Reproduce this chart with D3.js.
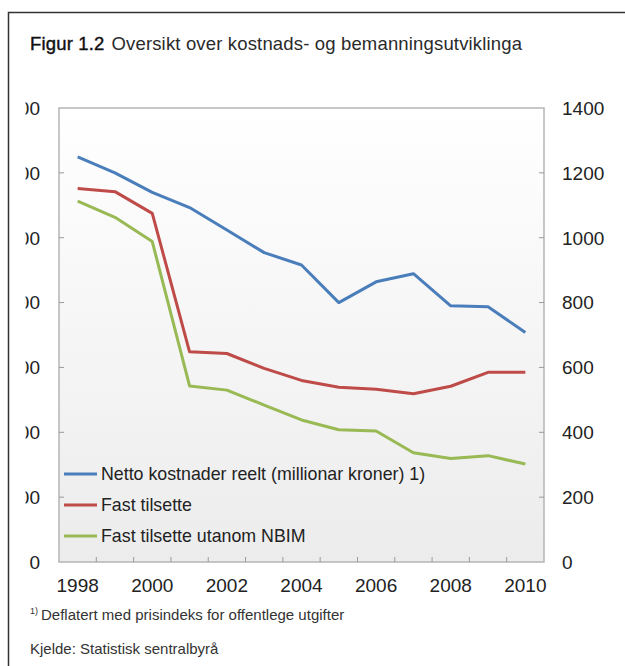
<!DOCTYPE html>
<html>
<head>
<meta charset="utf-8">
<script src="https://cdn.jsdelivr.net/npm/d3@7"></script>
<style>
  body { margin: 0; background: #fff; }
  svg { font-family: "Liberation Sans", Arial, sans-serif; }
</style>
</head>
<body>
<div id="chart"></div>
<script>
// data
const years = [1998, 1999, 2000, 2001, 2002, 2003, 2004, 2005, 2006, 2007, 2008, 2009, 2010];
const netto = [1249, 1200, 1140, 1093, 1024, 954, 916, 800, 864, 889, 790, 787, 708];
const fast = [1152, 1142, 1075, 648, 643, 597, 560, 539, 533, 519, 542, 585, 585];
const fastUtanNBIM = [1113, 1063, 988, 543, 530, 484, 438, 408, 404, 337, 319, 328, 302];
const seriesNames = ["Netto kostnader reelt (millionar kroner) 1)", "Fast tilsette", "Fast tilsette utanom NBIM"];
const colors = ["#4a7ebb", "#be4b48", "#98b954"];
const yTicks = [0, 200, 400, 600, 800, 1000, 1200, 1400];
const xLabels = [1998, 2000, 2002, 2004, 2006, 2008, 2010];

const W = 625, H = 666;
const margin = { top: 108, right: 81, bottom: 104, left: 59 };
const width = W - margin.left - margin.right,
    height = H - margin.top - margin.bottom;

const svg = d3.select("#chart")
    .append("svg")
    .attr("width", W)
    .attr("height", H);

// frame round the figure
svg.append("path")
    .attr("d", "M8.5," + H + "V12.5H" + W)
    .attr("fill", "none")
    .attr("stroke", "#333")
    .attr("stroke-width", 1.5);

svg.append("text")
    .attr("x", 30).attr("y", 50)
    .attr("font-size", 18.5)
    .attr("fill", "#2a2a2a")
    .attr("textLength", 492)
    .html('<tspan fill="#111" stroke="#111" stroke-width="0.4">Figur 1.2</tspan><tspan dx="7">Oversikt over kostnads- og bemanningsutviklinga</tspan>');

const defs = svg.append("defs");
const grad = defs.append("linearGradient")
    .attr("id", "bg").attr("x1", 0).attr("y1", 0).attr("x2", 0).attr("y2", 1);
grad.append("stop").attr("offset", "0%").attr("stop-color", "#ffffff");
grad.append("stop").attr("offset", "100%").attr("stop-color", "#ececec");
defs.append("clipPath").attr("id", "leftclip")
    .append("rect").attr("x", 25.5).attr("y", 0).attr("width", 40).attr("height", H);

const g = svg.append("g")
    .attr("transform", `translate(${margin.left},${margin.top})`);

g.append("rect")
    .attr("width", width).attr("height", height)
    .attr("fill", "url(#bg)")
    .attr("stroke", "#b5b5b5")
    .attr("stroke-width", 1.5);

// scales
const x = d3.scaleBand().domain(years).range([0, width]);
const y = d3.scaleLinear().domain([0, 1400]).range([height, 0]);

// y ticks inside on both sides
g.selectAll(".ytl").data(yTicks.slice(1, -1)).join("line")
    .attr("x1", 0).attr("x2", 5)
    .attr("y1", d => y(d)).attr("y2", d => y(d))
    .attr("stroke", "#9a9a9a").attr("stroke-width", 1);
g.selectAll(".ytr").data(yTicks.slice(1, -1)).join("line")
    .attr("x1", width - 5).attr("x2", width)
    .attr("y1", d => y(d)).attr("y2", d => y(d))
    .attr("stroke", "#9a9a9a").attr("stroke-width", 1);

// x ticks at category boundaries
g.selectAll(".xt").data(years.slice(1)).join("line")
    .attr("x1", d => x(d)).attr("x2", d => x(d))
    .attr("y1", height).attr("y2", height - 5)
    .attr("stroke", "#9a9a9a").attr("stroke-width", 1);

// left labels (cut off by the crop, as in the original)
svg.append("g").attr("clip-path", "url(#leftclip)")
    .selectAll("text").data(yTicks).join("text")
    .attr("x", 40).attr("y", d => margin.top + y(d))
    .attr("dy", "0.36em")
    .attr("text-anchor", "end")
    .attr("font-size", 19).attr("fill", "#222")
    .text(d => d);

// right labels
g.selectAll(".rl").data(yTicks).join("text")
    .attr("x", width + 18).attr("y", d => y(d))
    .attr("dy", "0.36em")
    .attr("font-size", 19).attr("fill", "#222")
    .text(d => d);

// x labels
g.selectAll(".xl").data(xLabels).join("text")
    .attr("x", d => x(d) + x.bandwidth() / 2)
    .attr("y", height + 30)
    .attr("text-anchor", "middle")
    .attr("font-size", 19).attr("fill", "#222")
    .text(d => d);

// lines
const line = d3.line()
    .x((d, i) => x(years[i]) + x.bandwidth() / 2)
    .y(d => y(d));
[netto, fast, fastUtanNBIM].forEach(function (s, k) {
    g.append("path")
        .datum(s)
        .attr("fill", "none")
        .attr("stroke", colors[k])
        .attr("stroke-width", 3)
        .attr("stroke-linejoin", "round")
        .attr("d", line);
});

// legend
const leg = g.append("g").attr("transform", "translate(5,366)");
seriesNames.forEach(function (name, k) {
    const row = leg.append("g").attr("transform", `translate(0,${k * 31})`);
    row.append("line").attr("x1", 0).attr("x2", 33)
        .attr("stroke", colors[k]).attr("stroke-width", 3);
    row.append("text").attr("x", 37).attr("dy", "0.36em")
        .attr("font-size", 17.8).attr("fill", "#222").text(name);
});

// notes
svg.append("text")
    .attr("x", 30).attr("y", 620)
    .attr("font-size", 15).attr("fill", "#333")
    .html('<tspan font-size="9" dy="-6">1)</tspan><tspan dx="3" dy="6">Deflatert med prisindeks for offentlege utgifter</tspan>');
svg.append("text")
    .attr("x", 30).attr("y", 654)
    .attr("font-size", 15).attr("fill", "#333")
    .text("Kjelde: Statistisk sentralbyrå");
</script>
</body>
</html>
